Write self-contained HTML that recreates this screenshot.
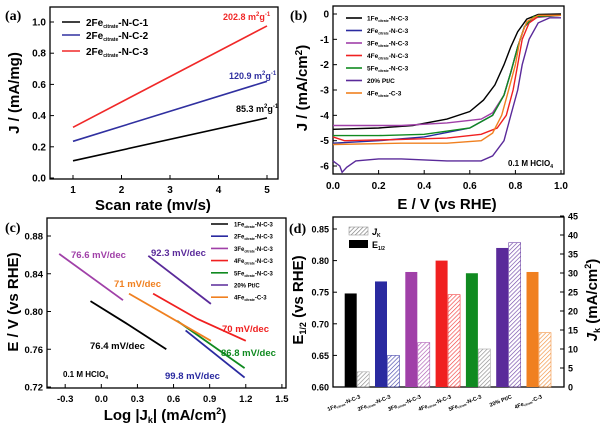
<!DOCTYPE html>
<html><head><meta charset="utf-8"><style>
body{margin:0;background:#fff}
svg{display:block;font-family:"Liberation Sans",Arial,sans-serif;font-weight:bold}
</style></head><body>
<svg id="fig" width="608" height="428" viewBox="0 0 608 428"></svg>
<script>
// ---------- Panel (a) data ----------
const aRates=[1,5];
const aSeries1=[0.11,0.385];
const aSeries2=[0.235,0.62];
const aSeries3=[0.325,0.975];
const aLabels=["2Fe","2Fe","2Fe"];
const aXTicks=[1,2,3,4,5];
const aYTicks=[0.0,0.2,0.4,0.6,0.8,1.0];
// ---------- Panel (b) data ----------
const bE1=[0,0.2,0.35,0.5,0.6,0.66,0.71,0.75,0.78,0.81,0.85,0.9,1.0];
const bJ1=[-4.55,-4.5,-4.4,-4.15,-3.85,-3.4,-2.8,-2.0,-1.3,-0.7,-0.2,-0.02,0];
const bE2=[0,0.2,0.4,0.6,0.7,0.75,0.78,0.81,0.84,0.88,0.95,1];
const bJ2=[-5.1,-5.0,-4.85,-4.5,-4.0,-3.2,-2.3,-1.3,-0.5,-0.15,-0.05,-0.05];
const bE3=[0,0.3,0.5,0.65,0.7,0.75,0.78,0.81,0.84,0.88,1];
const bJ3=[-4.4,-4.4,-4.3,-4.15,-3.9,-3.2,-2.3,-1.3,-0.5,-0.15,-0.05];
const bE4=[0,0.05,0.3,0.5,0.65,0.72,0.76,0.79,0.81,0.83,0.86,0.9,1];
const bJ4=[-4.85,-5.0,-4.95,-4.9,-4.75,-4.5,-4.0,-3.0,-2.0,-1.0,-0.35,-0.1,-0.05];
const bE5=[0,0.2,0.4,0.6,0.7,0.75,0.78,0.81,0.84,0.88,1];
const bJ5=[-4.8,-4.8,-4.75,-4.5,-4.0,-3.2,-2.3,-1.3,-0.5,-0.1,-0.05];
const bE6=[0,0.03,0.04,0.06,0.1,0.2,0.3,0.5,0.65,0.7,0.75,0.78,0.81,0.83,0.86,0.9,0.95,1];
const bJ6=[-5.8,-6.0,-6.25,-6.05,-5.8,-5.72,-5.72,-5.8,-5.8,-5.6,-5.0,-4.0,-3.0,-2.0,-1.0,-0.35,-0.15,-0.15];
const bE7=[0,0.3,0.5,0.65,0.7,0.74,0.77,0.8,0.82,0.85,0.9,1];
const bJ7=[-5.15,-5.1,-5.1,-5.0,-4.7,-4.0,-3.0,-2.0,-1.0,-0.3,-0.05,-0.05];
const bXTicks=[0.0,0.2,0.4,0.6,0.8,1.0];
const bYTicks=[0,-1,-2,-3,-4,-5,-6];
// ---------- Panel (c) data ----------
const cX1=[-0.09,0.2,0.54]; const cY1=[0.811,0.788,0.760];
const cX2=[0.70,1.19]; const cY2=[0.780,0.730];
const cX3=[-0.35,0.18]; const cY3=[0.861,0.812];
const cX4=[0.43,0.8,1.2]; const cY4=[0.819,0.792,0.769];
const cX5=[0.63,1.19]; const cY5=[0.790,0.740];
const cX6=[0.39,0.91]; const cY6=[0.859,0.808];
const cX7=[0.23,0.91]; const cY7=[0.819,0.769];
const cXTicks=[-0.3,0.0,0.3,0.6,0.9,1.2,1.5];
const cYTicks=[0.72,0.76,0.80,0.84,0.88];
// ---------- Panel (d) data ----------
const dCats=["1Fe","2Fe","3Fe","4Fe","5Fe","20% Pt/C","4Fe"];
const dE12=[0.748,0.767,0.782,0.800,0.780,0.820,0.782];
const dJk=[4.0,8.3,11.7,24.3,10.0,38.0,14.3];
const dLTicks=[0.60,0.65,0.70,0.75,0.80,0.85];
const dRTicks=[0,5,10,15,20,25,30,35,40,45];

const NS="http://www.w3.org/2000/svg";
const svg=document.getElementById('fig');
function mk(tag,attrs,parent,name,inter){const e=document.createElementNS(NS,tag);for(const k in attrs)e.setAttribute(k,attrs[k]);(parent||svg).appendChild(e);


return e;}
function txt(x,y,s,opt,name){const t=mk('text',Object.assign({x:x,y:y,'font-size':10,fill:'#000'},opt||{}),null,name||'label');t.innerHTML=s;return t;}
function lin(d0,d1,r0,r1){return v=>r0+(v-d0)/(d1-d0)*(r1-r0);}
const cols=['#000','#2a2aa0','#a040a8','#f02020','#108a20','#5a2a9a','#f08020'];
const ser=['1Fe','2Fe','3Fe','4Fe','5Fe','20% Pt/C','4Fe'];
function frame(x0,y0,x1,y1,name){mk('rect',{x:x0,y:y0,width:x1-x0,height:y1-y0,fill:'none',stroke:'#000','stroke-width':1.3},null,name);}
function poly(xs,ys,sx,sy,col,name,w){let d='';xs.forEach((v,i)=>{d+=(i?'L':'M')+sx(v).toFixed(1)+','+sy(ys[i]).toFixed(1);});mk('path',{d:d,fill:'none',stroke:col,'stroke-width':w||1.6},null,name);}

// ===== Panel a =====
{const sx=lin(1,5,73,267), sy=lin(0,1,178,22);
frame(50,7,278,179,'panel-a-frame');
aXTicks.forEach(v=>{mk('line',{x1:sx(v),x2:sx(v),y1:179,y2:175,stroke:'#000'},null,'x-tick');txt(sx(v),193,v,{'text-anchor':'middle'},'x-tick-label');});
aYTicks.forEach(v=>{mk('line',{x1:50,x2:54,y1:sy(v),y2:sy(v),stroke:'#000'},null,'y-tick');txt(46,sy(v)+3.5,v.toFixed(1),{'text-anchor':'end'},'y-tick-label');});
poly(aRates,aSeries1,sx,sy,'#000','series-2fe-n-c-1');
poly(aRates,aSeries2,sx,sy,'#3030a0','series-2fe-n-c-2');
poly(aRates,aSeries3,sx,sy,'#f02828','series-2fe-n-c-3');
const lc=['#000','#3030a0','#f02828'];
[22,35,51].forEach((y,i)=>{mk('line',{x1:62,x2:80,y1:y,y2:y,stroke:lc[i],'stroke-width':1.6},null,'legend-line');
txt(86,y+4,aLabels[i]+'<tspan font-size="5" dy="2">citrate</tspan><tspan dy="-2">-N-C-'+(i+1)+'</tspan>',{'font-size':10},'legend-entry');});
txt(223,20,'202.8 m<tspan font-size="6" dy="-4">2</tspan><tspan dy="4">g</tspan><tspan font-size="6" dy="-4">-1</tspan>',{fill:'#f02828','font-size':9},'annotation-n-c-3');
txt(229,79,'120.9 m<tspan font-size="6" dy="-4">2</tspan><tspan dy="4">g</tspan><tspan font-size="6" dy="-4">-1</tspan>',{fill:'#3030a0','font-size':9},'annotation-n-c-2');
txt(236,112,'85.3 m<tspan font-size="6" dy="-4">2</tspan><tspan dy="4">g</tspan><tspan font-size="6" dy="-4">-1</tspan>',{fill:'#000','font-size':9},'annotation-n-c-1');
txt(153,210,'Scan rate (mv/s)',{'text-anchor':'middle','font-size':15},'x-axis-title');
txt(19,93,'J / (mA/mg)',{'text-anchor':'middle','font-size':15,transform:'rotate(-90 19 93)'},'y-axis-title');
txt(5,20,'(a)',{'font-family':'Liberation Serif','font-size':14},'panel-label-a');}

// ===== Panel b =====
{const sx=lin(0,1,333,561), sy=lin(0,-6,14,166);
frame(333,6,564,174,'panel-b-frame');
bXTicks.forEach(v=>{mk('line',{x1:sx(v),x2:sx(v),y1:174,y2:170,stroke:'#000'},null,'x-tick');txt(sx(v),189,v.toFixed(1),{'text-anchor':'middle'},'x-tick-label');});
bYTicks.forEach(v=>{mk('line',{x1:333,x2:337,y1:sy(v),y2:sy(v),stroke:'#000'},null,'y-tick');txt(329,sy(v)+3.5,v,{'text-anchor':'end'},'y-tick-label');});
const E=[bE1,bE2,bE3,bE4,bE5,bE6,bE7], J=[bJ1,bJ2,bJ3,bJ4,bJ5,bJ6,bJ7];
E.forEach((e,i)=>poly(e,J[i],sx,sy,cols[i],'lsv-curve-'+(i+1),1.4));
ser.forEach((s,i)=>{const y=18+i*12.5;mk('line',{x1:346,x2:362,y1:y,y2:y,stroke:cols[i],'stroke-width':1.6},null,'legend-line');
const lbl=i==5?s:(s+'<tspan font-size="3.5" dy="1.5">citrate</tspan><tspan dy="-1.5">'+(i==6?'-C-3':'-N-C-3')+'</tspan>');
txt(367,y+2.5,lbl,{'font-size':6.5},'legend-entry');});
txt(508,166,'0.1 M HClO<tspan font-size="5" dy="2">4</tspan>',{'font-size':8},'electrolyte-label');
txt(447,209,'E / V (vs RHE)',{'text-anchor':'middle','font-size':15},'x-axis-title');
txt(307,88,'J / (mA/cm<tspan font-size="10" dy="-5">2</tspan><tspan dy="5">)</tspan>',{'text-anchor':'middle','font-size':15,transform:'rotate(-90 307 88)'},'y-axis-title');
mk('rect',{x:288,y:5,width:22,height:20,fill:'#fff'},null,'label-bg');
txt(290,20,'(b)',{'font-family':'Liberation Serif','font-size':14},'panel-label-b');}

// ===== Panel c =====
{const sx=lin(0,1.5,101.3,281.9), sy=lin(0.72,0.88,387,236);
frame(47,218,286,388,'panel-c-frame');
cXTicks.forEach(v=>{mk('line',{x1:sx(v),x2:sx(v),y1:388,y2:384,stroke:'#000'},null,'x-tick');txt(sx(v),402,v.toFixed(1),{'text-anchor':'middle','font-size':9.5},'x-tick-label');});
cYTicks.forEach(v=>{mk('line',{x1:47,x2:51,y1:sy(v),y2:sy(v),stroke:'#000'},null,'y-tick');txt(43,sy(v)+3.5,v.toFixed(2),{'text-anchor':'end','font-size':9.5},'y-tick-label');});
const X=[cX1,cX2,cX3,cX4,cX5,cX6,cX7], Y=[cY1,cY2,cY3,cY4,cY5,cY6,cY7];
X.forEach((x,i)=>poly(x,Y[i],sx,sy,cols[i],'tafel-line-'+(i+1),1.8));
ser.forEach((s,i)=>{const y=224+i*12.2;mk('line',{x1:211,x2:228,y1:y,y2:y,stroke:cols[i],'stroke-width':1.6},null,'legend-line');
const lbl=i==5?s:(s+'<tspan font-size="3.5" dy="1.5">citrate</tspan><tspan dy="-1.5">'+(i==6?'-C-3':'-N-C-3')+'</tspan>');
txt(234,y+2.5,lbl,{'font-size':6},'legend-entry');});
const ann=[[71,258,'76.6 mV/dec',2],[151,256,'92.3 mV/dec',5],[114,287,'71 mV/dec',6],[222,332,'70 mV/dec',3],[90,349,'76.4 mV/dec',0],[221,356,'86.8 mV/dec',4],[165,379,'99.8 mV/dec',1]];
ann.forEach(a=>txt(a[0],a[1],a[2],{fill:cols[a[3]],'font-size':9.5},'tafel-slope-label'));
txt(63,377,'0.1 M HClO<tspan font-size="5" dy="2">4</tspan>',{'font-size':8},'electrolyte-label');
txt(165,420,'Log |J<tspan font-size="9" dy="3">k</tspan><tspan dy="-3">| (mA/cm</tspan><tspan font-size="9" dy="-6">2</tspan><tspan dy="6">)</tspan>',{'text-anchor':'middle','font-size':15},'x-axis-title');
txt(18,302,'E / V (vs RHE)',{'text-anchor':'middle','font-size':15,transform:'rotate(-90 18 302)'},'y-axis-title');
txt(5,232,'(c)',{'font-family':'Liberation Serif','font-size':14},'panel-label-c');}

// ===== Panel d =====
{const syL=lin(0.60,0.85,387,229), syR=lin(0,45,387,216);
const defs=mk('defs',{},null,'hatch-defs');
cols.forEach((c,i)=>{const p=mk('pattern',{id:'h'+i,width:3,height:3,patternUnits:'userSpaceOnUse',patternTransform:'rotate(45)'},defs,'hatch-pattern');
mk('rect',{width:3,height:3,fill:'#fff'},p,'hatch-bg');mk('line',{x1:0,y1:0,x2:0,y2:3,stroke:i==0||i==4?'#777':c,'stroke-width':1.3},p,'hatch-line');});
frame(333,217,564,387,'panel-d-frame');
dLTicks.forEach(v=>{mk('line',{x1:333,x2:337,y1:syL(v),y2:syL(v),stroke:'#000'},null,'left-y-tick');txt(329,syL(v)+3.5,v.toFixed(2),{'text-anchor':'end','font-size':9},'left-y-tick-label');});
dRTicks.forEach(v=>{mk('line',{x1:560,x2:564,y1:syR(v),y2:syR(v),stroke:'#000'},null,'right-y-tick');txt(568,syR(v)+3.5,v,{'font-size':9},'right-y-tick-label');});
const band=30.3, x0=344.7, bw=12;
dCats.forEach((c,i)=>{const x=x0+band*i;
mk('rect',{x:x,y:syL(dE12[i]),width:bw,height:387-syL(dE12[i]),fill:cols[i]},null,'e12-bar-'+(i+1));
mk('rect',{x:x+bw+0.5,y:syR(dJk[i]),width:bw,height:387-syR(dJk[i]),fill:'url(#h'+i+')',stroke:i==0||i==4?'#999':cols[i],'stroke-width':0.6,opacity:0.85},null,'jk-bar-'+(i+1));
const lbl=i==5?c:(c+'<tspan font-size="3" dy="1">citrate</tspan><tspan dy="-1">'+(i==6?'-C-3':'-N-C-3')+'</tspan>');
const cx=x+bw+4, cy=398;
txt(cx,cy,lbl,{'text-anchor':'end','font-size':5.5,transform:'rotate(-22 '+cx+' '+cy+')'},'category-label');});
mk('rect',{x:349,y:227,width:19,height:8,fill:'url(#h0)',stroke:'#999','stroke-width':0.6},null,'legend-jk-swatch');
mk('rect',{x:349,y:240,width:19,height:8,fill:'#000'},null,'legend-e12-swatch');
txt(372,235,'<tspan font-style="italic">J</tspan><tspan font-size="5" dy="2">K</tspan>',{'font-size':9},'legend-jk');
txt(372,248,'E<tspan font-size="5" dy="2">1/2</tspan>',{'font-size':9},'legend-e12');
txt(303,300,'E<tspan font-size="9" dy="3">1/2</tspan><tspan dy="-3"> (vs RHE)</tspan>',{'text-anchor':'middle','font-size':15,transform:'rotate(-90 303 300)'},'left-y-axis-title');
txt(597,300,'<tspan font-style="italic">J</tspan><tspan font-size="9" dy="3">k</tspan><tspan dy="-3"> (mA/cm</tspan><tspan font-size="9" dy="-6">2</tspan><tspan dy="6">)</tspan>',{'text-anchor':'middle','font-size':15,transform:'rotate(-90 597 300)'},'right-y-axis-title');
mk('rect',{x:287,y:218,width:22,height:20,fill:'#fff'},null,'label-bg');
txt(289,233,'(d)',{'font-family':'Liberation Serif','font-size':14},'panel-label-d');}
</script>
</body></html>
